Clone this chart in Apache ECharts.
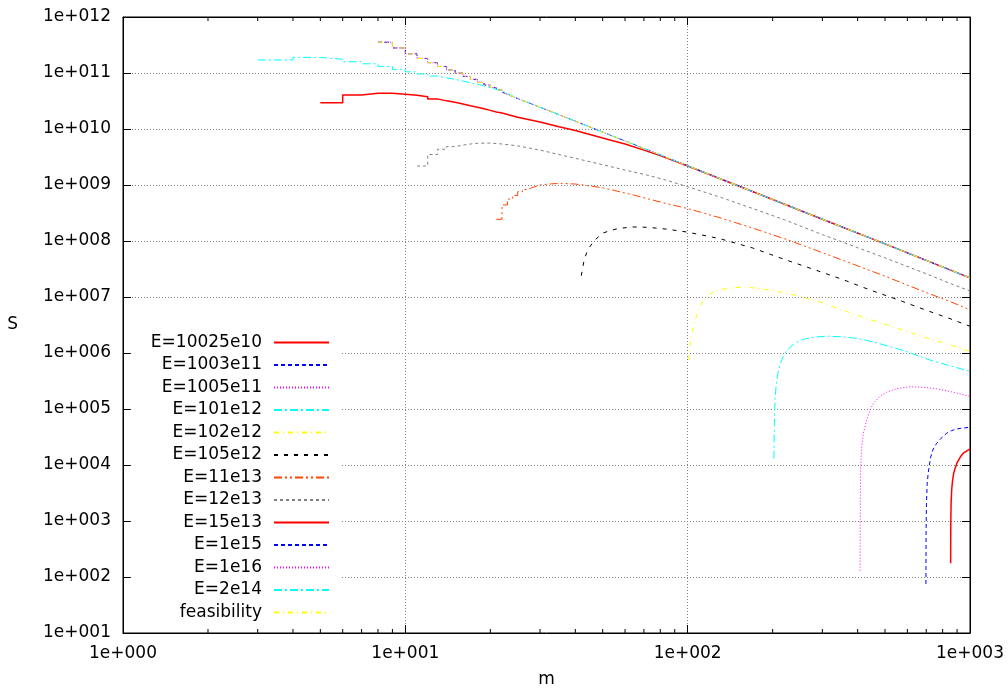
<!DOCTYPE html>
<html><head><meta charset="utf-8">
<script src="https://cdn.jsdelivr.net/npm/echarts@6/dist/echarts.min.js"></script>
<style>html,body{margin:0;padding:0;background:#fff}#c{width:1008px;height:692px}</style>
</head><body><div id="c"></div><script>
const seriesNames = ['E=10025e10','E=1003e11','E=1005e11','E=101e12','E=102e12','E=105e12','E=11e13','E=12e13','E=15e13','E=1e15','E=1e16','E=2e14','feasibility'];
const xMinorTicks = [2,3,4,5,6,7,8,9,20,30,40,50,60,70,80,90,200,300,400,500,600,700,800,900];

const M_E10025e10 = [854, 855, 857, 861, 867, 875, 885, 900, 925, 950, 1000];
const S_E10025e10 = [176, 900, 2000, 3500, 5200, 7000, 8700, 11000, 14000, 16500, 19500];

const M_E1003e11 = [698, 699, 701, 705, 711, 718, 726, 740, 762, 790, 827, 860, 898, 950, 1000];
const S_E1003e11 = [75, 700, 2000, 4500, 7100, 10000, 14000, 19000, 24400, 30000, 37000, 41000, 44000, 46000, 47000];

const M_E1005e11 = [408, 409, 410, 413, 419, 431, 442, 455, 480, 507, 550, 613, 680, 762, 870, 1000];
const S_E1005e11 = [130, 2500, 9000, 20000, 37000, 64000, 95000, 126000, 170000, 200000, 230000, 250000, 245000, 230000, 200000, 168000];

const M_E101e12 = [202, 203, 204, 206, 209, 213, 218, 225, 240, 257, 280, 311, 350, 397, 450, 521, 600, 721, 850, 1000];
const S_E101e12 = [13000, 70000, 150000, 280000, 450000, 650000, 870000, 1130000, 1500000, 1760000, 1920000, 2000000, 1950000, 1830000, 1600000, 1300000, 1050000, 750000, 590000, 470000];

const M_E102e12 = [101, 102, 103, 105, 108, 113, 120, 130, 145, 160, 180, 210, 240, 290, 340, 420, 510, 620, 740, 870, 1000];
const S_E102e12 = [7.5e5, 1.4e6, 2.0e6, 3.0e6, 5.1e6, 8.3e6, 1.15e7, 1.35e7, 1.47e7, 1.5e7, 1.42e7, 1.25e7, 1.08e7, 8.3e6, 6.3e6, 4.3e6, 3.15e6, 2.3e6, 1.7e6, 1.35e6, 1.07e6];

const M_E105e12 = [42, 43, 44, 45, 47, 50, 53, 57, 64, 72, 85, 100, 130, 170, 220, 280, 350, 440, 560, 700, 850, 1000];
const S_E105e12 = [2.4e7, 4.6e7, 6.4e7, 7.9e7, 1.05e8, 1.38e8, 1.53e8, 1.68e8, 1.78e8, 1.76e8, 1.62e8, 1.44e8, 1.1e8, 7.5e7, 4.7e7, 3.1e7, 2.1e7, 1.35e7, 8.8e6, 5.8e6, 4.1e6, 3.0e6];

const M_E11e13 = [21, 22, 23, 24, 25, 26, 27, 28, 30, 33, 36, 40, 44, 50, 55, 63, 72, 85, 100, 130, 170, 220, 300, 400, 500, 700, 850, 1000];
const S_E11e13 = [2.44e8, 4.4e8, 5.6e8, 6.5e8, 7.6e8, 8.3e8, 8.9e8, 9.3e8, 1.0e9, 1.05e9, 1.07e9, 1.04e9, 9.8e8, 8.9e8, 8.0e8, 6.8e8, 5.7e8, 4.6e8, 3.8e8, 2.6e8, 1.7e8, 1.1e8, 6.2e7, 3.6e7, 2.35e7, 1.2e7, 8.3e6, 5.9e6];

const M_E12e13 = [11, 12, 13, 14, 15, 16, 17, 18, 19, 20, 22, 25, 30, 35, 43, 50, 60, 72, 85, 100, 130, 170, 220, 300, 400, 500, 700, 850, 1000];
const S_E12e13 = [2.18e9, 3.5e9, 4.35e9, 4.85e9, 5.15e9, 5.4e9, 5.55e9, 5.6e9, 5.6e9, 5.55e9, 5.4e9, 5.0e9, 4.2e9, 3.5e9, 2.75e9, 2.3e9, 1.85e9, 1.5e9, 1.2e9, 9.3e8, 6.1e8, 3.8e8, 2.4e8, 1.3e8, 7.6e7, 5.0e7, 2.6e7, 1.75e7, 1.28e7];

const M_E15e13 = [5, 6, 7, 8, 9, 10, 11, 12, 13, 14, 15, 16, 17, 18, 19, 20, 21, 22, 25, 30, 35, 40, 50, 60, 70, 80, 100, 150, 200, 300, 500, 700, 1000];
const S_E15e13 = [2.95e10, 4.05e10, 4.33e10, 4.33e10, 4.17e10, 4.0e10, 3.78e10, 3.45e10, 3.18e10, 3.0e10, 2.8e10, 2.6e10, 2.45e10, 2.3e10, 2.15e10, 2.02e10, 1.93e10, 1.85e10, 1.62e10, 1.33e10, 1.1e10, 9.4e9, 6.9e9, 5.4e9, 4.2e9, 3.35e9, 2.18e9, 9.8e8, 5.5e8, 2.45e8, 8.9e7, 4.5e7, 2.2e7];

const M_E1e15 = [8, 9, 10, 11, 12, 13, 14, 15, 16, 17, 18, 19, 20, 21, 22, 25, 30, 35, 40, 50, 70, 100, 150, 200, 300, 500, 700, 1000];
const S_E1e15 = [3.55e11, 2.8e11, 2.2e11, 1.82e11, 1.53e11, 1.31e11, 1.13e11, 1.0e11, 8.7e10, 7.7e10, 6.8e10, 6.1e10, 5.5e10, 5.0e10, 4.55e10, 3.5e10, 2.45e10, 1.8e10, 1.38e10, 8.8e9, 4.5e9, 2.2e9, 9.8e8, 5.5e8, 2.45e8, 8.9e7, 4.5e7, 2.2e7];

const M_E1e16 = [8, 9, 10, 11, 12, 13, 14, 15, 16, 17, 18, 19, 20, 21, 22, 25, 30, 35, 40, 50, 70, 100, 150, 200, 300, 500, 700, 1000];
const S_E1e16 = [3.55e11, 2.8e11, 2.2e11, 1.82e11, 1.53e11, 1.31e11, 1.13e11, 1.0e11, 8.7e10, 7.7e10, 6.8e10, 6.1e10, 5.5e10, 5.0e10, 4.55e10, 3.5e10, 2.45e10, 1.8e10, 1.38e10, 8.8e9, 4.5e9, 2.2e9, 9.8e8, 5.5e8, 2.45e8, 8.9e7, 4.5e7, 2.2e7];

const M_E2e14 = [3, 4, 5, 6, 7, 8, 9, 10, 11, 12, 13, 14, 15, 16, 17, 18, 19, 20, 21, 22, 25, 30, 35, 40, 50, 70, 100, 150, 200, 300, 500, 700, 1000];
const S_E2e14 = [1.71e11, 1.9e11, 1.76e11, 1.59e11, 1.46e11, 1.31e11, 1.16e11, 1.05e11, 9.6e10, 8.8e10, 8.2e10, 7.7e10, 7.2e10, 6.7e10, 6.3e10, 5.9e10, 5.5e10, 5.1e10, 4.8e10, 4.5e10, 3.5e10, 2.45e10, 1.8e10, 1.38e10, 8.8e9, 4.5e9, 2.2e9, 9.8e8, 5.5e8, 2.45e8, 8.9e7, 4.5e7, 2.2e7];

const M_feas = [8, 9, 10, 11, 12, 13, 14, 15, 16, 17, 18, 19, 20, 21, 22, 25, 30, 35, 40, 50, 70, 100, 150, 200, 300, 500, 700, 1000];
const S_feas = [3.55e11, 2.8e11, 2.2e11, 1.82e11, 1.53e11, 1.31e11, 1.13e11, 1.0e11, 8.7e10, 7.7e10, 6.8e10, 6.1e10, 5.5e10, 5.0e10, 4.55e10, 3.5e10, 2.45e10, 1.8e10, 1.38e10, 8.8e9, 4.5e9, 2.2e9, 9.8e8, 5.5e8, 2.45e8, 8.9e7, 4.5e7, 2.2e7];

const curveM = [M_E10025e10, M_E1003e11, M_E1005e11, M_E101e12, M_E102e12, M_E105e12, M_E11e13, M_E12e13, M_E15e13, M_E1e15, M_E1e16, M_E2e14, M_feas];
const curveS = [S_E10025e10, S_E1003e11, S_E1005e11, S_E101e12, S_E102e12, S_E105e12, S_E11e13, S_E12e13, S_E15e13, S_E1e15, S_E1e16, S_E2e14, S_feas];

const styles = [
  {color:'#ff0000', type:'solid', width:1.5},
  {color:'#0000ff', type:[4,3], width:1},
  {color:'#ff00ff', type:[1,2], width:1},
  {color:'#00ffff', type:[8,3,2,3], width:1},
  {color:'#ffff00', type:[5,4,1,4], width:1},
  {color:'#000000', type:[4,6], width:1},
  {color:'#ff4500', type:[8,3,2,3,2,3], width:1},
  {color:'#808080', type:[3,3], width:1},
  {color:'#ff0000', type:'solid', width:1.5},
  {color:'#0000ff', type:[4,3], width:1},
  {color:'#ff00ff', type:[1,2], width:1},
  {color:'#00ffff', type:[8,3,2,3], width:1},
  {color:'#ffff00', type:[5,4,1,4], width:1}
];

const STEP_BELOW = 36;
function build(ms, ss) {
  const out = [];
  for (let i = 0; i < ms.length; i++) {
    out.push([ms[i], ss[i]]);
    if (i + 1 < ms.length && ms[i+1] - ms[i] === 1 && ms[i] < STEP_BELOW) out.push([ms[i+1], ss[i]]);
  }
  return out;
}
const FONT = 'DejaVu Sans';
const fmt = v => '1e+' + String(Math.round(Math.log10(v))).padStart(3, '0');
const X_MIN = 1, X_MAX = 1000, Y_MIN = 10, Y_MAX = 1e12;

const series = seriesNames.map((n, i) => ({
  name: n, type: 'line', data: build(curveM[i], curveS[i]),
  showSymbol: false, symbol: 'none', clip: true,
  lineStyle: {color: styles[i].color, type: styles[i].type, width: styles[i].width},
  itemStyle: {color: styles[i].color},
  emphasis: {disabled: true}, z: 3 + i * 0.01
}));
series.push({
  type: 'custom', silent: true, clip: false, z: 5,
  data: xMinorTicks.map(v => [v]),
  renderItem: function (params, api) {
    const v = api.value(0);
    const b = api.coord([v, Y_MIN]);
    const t = api.coord([v, Y_MAX]);
    return {type: 'group', children: [
      {type: 'line', shape: {x1: b[0], y1: b[1], x2: b[0], y2: b[1] - 4}, style: {stroke: '#000', lineWidth: 1}},
      {type: 'line', shape: {x1: t[0], y1: t[1], x2: t[0], y2: t[1] + 4}, style: {stroke: '#000', lineWidth: 1}}
    ]};
  }
});

const labelStyle = {fontFamily: FONT, fontSize: 17, color: '#000'};
const splitStyle = {show: true, showMinLine: false, showMaxLine: false, lineStyle: {color: '#808080', type: [1, 2], width: 1}};
const chart = echarts.init(document.getElementById('c'), null, {renderer: 'canvas'});
chart.setOption({
  animation: false,
  backgroundColor: '#fff',
  grid: {left: 123, right: 38, top: 17, bottom: 59, show: true, borderColor: '#000', borderWidth: 1,
         containLabel: false, outerBoundsMode: 'none'},
  legend: {
    data: seriesNames, orient: 'vertical', right: 667, top: 330, align: 'right',
    itemWidth: 55, itemHeight: 14, itemGap: 5.5, padding: [4, 11, 4, 20],
    backgroundColor: '#fff', selectedMode: false,
    itemStyle: {opacity: 0, borderWidth: 0},
    textStyle: {fontFamily: FONT, fontSize: 17, color: '#000', lineHeight: 14, padding: [0, 7, 0, 0]}
  },
  xAxis: [
    {type: 'log', logBase: 10, min: X_MIN, max: X_MAX, interval: 1, position: 'bottom',
     name: 'm', nameLocation: 'middle', nameGap: 38, nameTextStyle: labelStyle,
     axisLine: {show: true, lineStyle: {color: '#000', width: 1}},
     axisTick: {show: true, inside: true, length: 8, lineStyle: {color: '#000'}},
     axisLabel: Object.assign({margin: 12, formatter: fmt}, labelStyle),
     splitLine: splitStyle},
    {type: 'log', logBase: 10, min: X_MIN, max: X_MAX, interval: 1, position: 'top',
     axisLine: {show: true, lineStyle: {color: '#000', width: 1}},
     axisTick: {show: true, inside: true, length: 8, lineStyle: {color: '#000'}},
     axisLabel: {show: false}, splitLine: {show: false}}
  ],
  yAxis: [
    {type: 'log', logBase: 10, min: Y_MIN, max: Y_MAX, interval: 1, position: 'left',
     name: 'S', nameLocation: 'middle', nameRotate: 0, nameGap: 105, nameTextStyle: labelStyle,
     axisLine: {show: true, lineStyle: {color: '#000', width: 1}},
     axisTick: {show: true, inside: true, length: 8, lineStyle: {color: '#000'}},
     axisLabel: Object.assign({margin: 12, formatter: fmt}, labelStyle),
     splitLine: splitStyle},
    {type: 'log', logBase: 10, min: Y_MIN, max: Y_MAX, interval: 1, position: 'right',
     axisLine: {show: true, lineStyle: {color: '#000', width: 1}},
     axisTick: {show: true, inside: true, length: 8, lineStyle: {color: '#000'}},
     axisLabel: {show: false}, splitLine: {show: false}}
  ],
  series: series
});
</script></body></html>
